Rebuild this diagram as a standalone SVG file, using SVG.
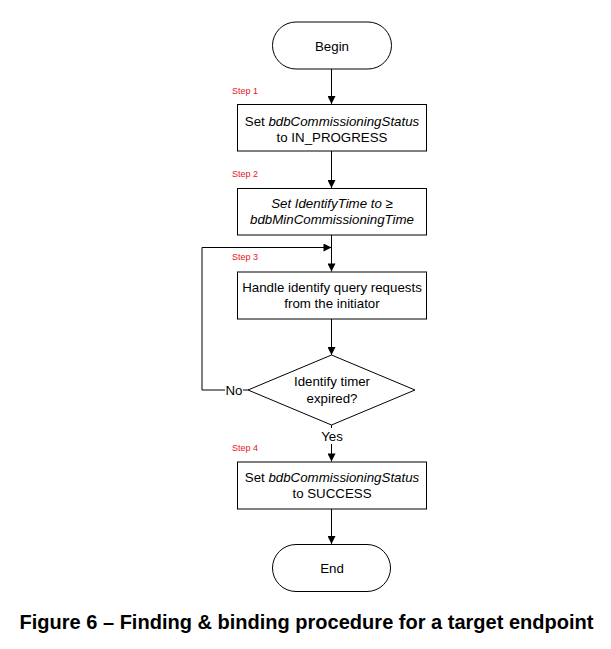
<svg xmlns="http://www.w3.org/2000/svg" width="611" height="649" viewBox="0 0 611 649">
<style>
.shape{fill:#fff;stroke:#000;stroke-width:1}
.t{font-family:"Liberation Sans",Arial,sans-serif;font-size:13.3px;fill:#000;text-anchor:middle}
.i{font-style:italic}
.step{font-family:"Liberation Sans",Arial,sans-serif;font-size:9px;fill:#e8141c}
.line{fill:none;stroke:#000;stroke-width:1}
.cap{font-family:"Liberation Sans",Arial,sans-serif;font-size:19.5px;font-weight:bold;fill:#000;text-anchor:middle}
</style>
<defs>
<marker id="arr" viewBox="0 0 10 10" refX="10" refY="5" markerWidth="10" markerHeight="8" markerUnits="userSpaceOnUse" orient="auto">
<path d="M0,0 L10,5 L0,10 Z" fill="#000"/>
</marker>
</defs>
<rect width="611" height="649" fill="#fff"/>
<g id="connectors">
<line class="line" x1="331.5" y1="69" x2="331.5" y2="104" marker-end="url(#arr)"/>
<line class="line" x1="331.5" y1="151" x2="331.5" y2="188" marker-end="url(#arr)"/>
<line class="line" x1="331.5" y1="235" x2="331.5" y2="271.5" marker-end="url(#arr)"/>
<line class="line" x1="331.5" y1="319" x2="331.5" y2="355" marker-end="url(#arr)"/>
<line class="line" x1="331.5" y1="425" x2="331.5" y2="428"/>
<line class="line" x1="331.5" y1="444" x2="331.5" y2="461.5" marker-end="url(#arr)"/>
<line class="line" x1="331.5" y1="509" x2="331.5" y2="544" marker-end="url(#arr)"/>
<polyline class="line" points="248,390 243,390"/>
<polyline class="line" points="225,390 202,390 202,247.5 331.5,247.5" marker-end="url(#arr)"/>
<text class="t" x="234" y="394.5">No</text>
<text class="t" x="332" y="440.5">Yes</text>
</g>
<g id="begin">
<rect class="shape" x="272.5" y="22" width="119" height="47" rx="23.5" ry="23.5"/>
<text class="t" x="332" y="50.5">Begin</text>
</g>
<g id="step1">
<text class="step" x="232" y="94">Step 1</text>
<rect class="shape" x="237.5" y="104.5" width="189" height="46.5"/>
<text class="t" x="332" y="125.5">Set <tspan class="i">bdbCommissioningStatus</tspan></text>
<text class="t" x="332" y="141.5">to IN_PROGRESS</text>
</g>
<g id="step2">
<text class="step" x="232" y="177">Step 2</text>
<rect class="shape" x="237.5" y="188.5" width="189" height="46.5"/>
<text class="t i" x="332" y="208">Set IdentifyTime to ≥</text>
<text class="t i" x="332" y="224">bdbMinCommissioningTime</text>
</g>
<g id="step3">
<text class="step" x="232" y="260">Step 3</text>
<rect class="shape" x="237.5" y="272" width="189" height="47"/>
<text class="t" x="332" y="291.5">Handle identify query requests</text>
<text class="t" x="332" y="307.5">from the initiator</text>
</g>
<g id="decision">
<polygon class="shape" points="331.5,355 415,390 331.5,425 248,390"/>
<text class="t" x="332" y="386">Identify timer</text>
<text class="t" x="332" y="402.5">expired?</text>
</g>
<g id="step4">
<text class="step" x="232" y="450.5">Step 4</text>
<rect class="shape" x="237.5" y="462" width="189" height="47"/>
<text class="t" x="332" y="481.5">Set <tspan class="i">bdbCommissioningStatus</tspan></text>
<text class="t" x="332" y="497.5">to SUCCESS</text>
</g>
<g id="end">
<rect class="shape" x="272.5" y="544.5" width="118" height="47" rx="23.5" ry="23.5"/>
<text class="t" x="332" y="572.5">End</text>
</g>
<text class="cap" x="306.5" y="629" textLength="574" lengthAdjust="spacingAndGlyphs">Figure 6 – Finding &amp; binding procedure for a target endpoint</text>
</svg>
